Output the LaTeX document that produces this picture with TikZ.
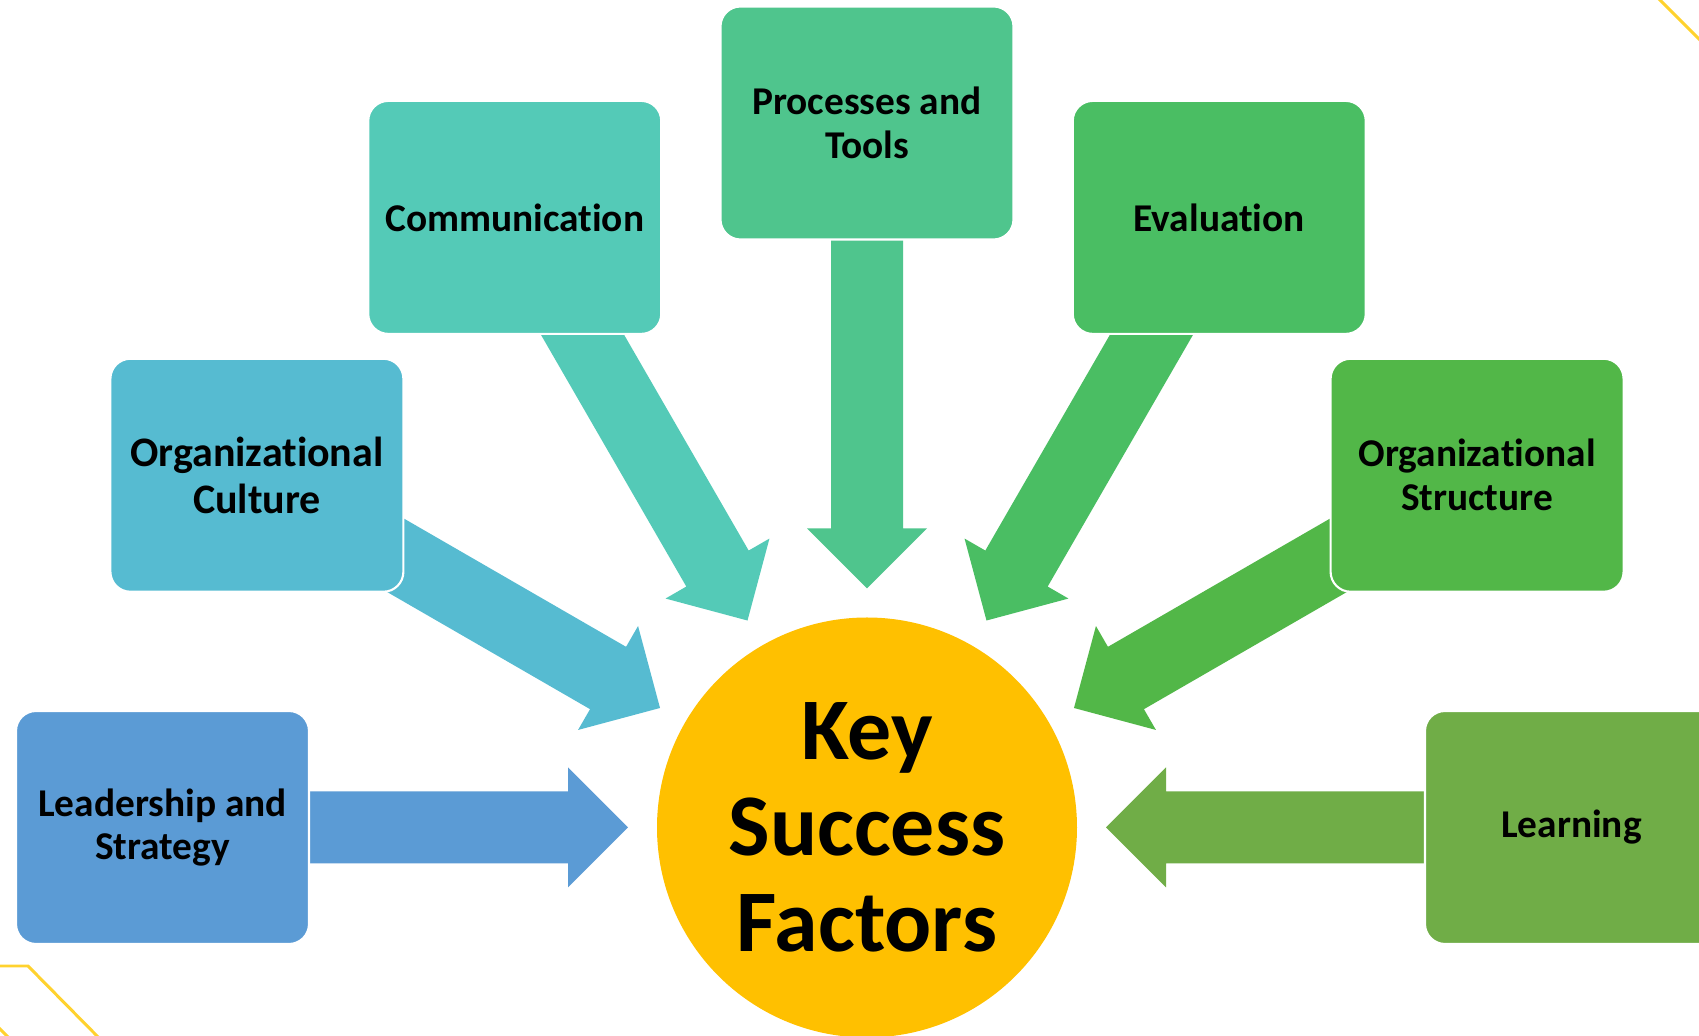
\documentclass[tikz,border=0pt]{standalone}
\usepackage{fontspec}
\setmainfont[Ligatures={NoCommon,NoRare,NoContextual}]{Carlito}
\usepackage{tikz}
\usepackage{xcolor}

\definecolor{leadblue}{HTML}{5B9BD5}
\definecolor{culturecol}{HTML}{56BBD1}
\definecolor{commcol}{HTML}{54CAB7}
\definecolor{proccol}{HTML}{4FC58D}
\definecolor{evalcol}{HTML}{4ABE63}
\definecolor{structcol}{HTML}{52B748}
\definecolor{learncol}{HTML}{70AD47}
\definecolor{ksfgold}{HTML}{FFC000}
\definecolor{cornergold}{HTML}{FFD22E}

\begin{document}
\begin{tikzpicture}[
  factor/.style={rounded corners=0.2cm, draw=white, line width=0.6pt,
    minimum width=2.93cm, minimum height=2.33cm, inner sep=0pt, align=center,
    font=\bfseries\fontsize{11.2}{12.5}\selectfont},
  corner/.style={draw=cornergold, line width=0.85pt}
]
\useasboundingbox[fill=white] (0,0) rectangle (16.99,10.36);

% Thin gold corner lines
\draw[corner] (16.55,10.41) -- (17.05,9.91);
\draw[corner] (-0.1,0.70) -- (0.28,0.70) -- (1.02,-0.05);
\draw[corner] (-0.05,0.12) -- (0.08,-0.01);

% Centre circle
\node[circle, fill=ksfgold, minimum size=4.2cm, inner sep=0pt, align=center,
  font=\bfseries\fontsize{25}{27.4}\selectfont] (ksf) at (8.67,2.085) {Key\\Success\\Factors};

% Block arrows pointing at the circle
\fill[leadblue, shift={(ksf.center)}, rotate=0] (-2.39,0) -- (-2.99,0.6) -- (-2.99,0.36) -- (-5.7,0.36) -- (-5.7,-0.36) -- (-2.99,-0.36) -- (-2.99,-0.6) -- cycle;
\fill[culturecol, shift={(ksf.center)}, rotate=-30] (-2.39,0) -- (-2.99,0.6) -- (-2.99,0.36) -- (-5.7,0.36) -- (-5.7,-0.36) -- (-2.99,-0.36) -- (-2.99,-0.6) -- cycle;
\fill[commcol, shift={(ksf.center)}, rotate=-60] (-2.39,0) -- (-2.99,0.6) -- (-2.99,0.36) -- (-6.1,0.36) -- (-6.1,-0.36) -- (-2.99,-0.36) -- (-2.99,-0.6) -- cycle;
\fill[proccol, shift={(ksf.center)}, rotate=-90] (-2.39,0) -- (-2.99,0.6) -- (-2.99,0.36) -- (-6.0,0.36) -- (-6.0,-0.36) -- (-2.99,-0.36) -- (-2.99,-0.6) -- cycle;
\fill[evalcol, shift={(ksf.center)}, rotate=-120] (-2.39,0) -- (-2.99,0.6) -- (-2.99,0.36) -- (-6.1,0.36) -- (-6.1,-0.36) -- (-2.99,-0.36) -- (-2.99,-0.6) -- cycle;
\fill[structcol, shift={(ksf.center)}, rotate=-150] (-2.39,0) -- (-2.99,0.6) -- (-2.99,0.36) -- (-5.7,0.36) -- (-5.7,-0.36) -- (-2.99,-0.36) -- (-2.99,-0.6) -- cycle;
\fill[learncol, shift={(ksf.center)}, rotate=180] (-2.39,0) -- (-2.99,0.6) -- (-2.99,0.36) -- (-5.7,0.36) -- (-5.7,-0.36) -- (-2.99,-0.36) -- (-2.99,-0.6) -- cycle;

% Factor boxes (\kern0pt keeps "t" and "i" apart)
\node[factor, fill=leadblue] (lead) at (1.625,2.085) {Leadership and\\Strategy};
\node[factor, fill=culturecol, font=\bfseries\fontsize{11.95}{13.3}\selectfont] (culture) at (2.569,5.6075) {Organizat\kern0pt ional\\Culture};
\node[factor, fill=commcol] (comm) at (5.1475,8.186) {Communicat\kern0pt ion};
\node[factor, fill=proccol] (proc) at (8.67,9.13) {Processes and\\Tools};
\node[factor, fill=evalcol] (eval) at (12.1925,8.186) {Evaluat\kern0pt ion};
\node[factor, fill=structcol] (struct) at (14.771,5.6075) {Organizat\kern0pt ional\\Structure};
\node[factor, fill=learncol] (learn) at (15.715,2.085) {Learning};
\end{tikzpicture}
\end{document}
